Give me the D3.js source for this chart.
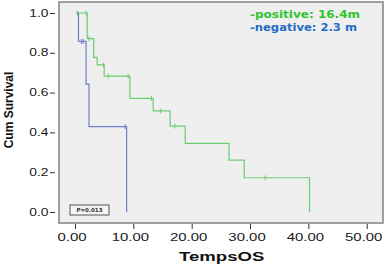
<!DOCTYPE html>
<html>
<head>
<meta charset="utf-8">
<script src="https://cdn.jsdelivr.net/npm/d3@7"></script>
<style>
  body { margin: 0; background: #fff; }
  svg { display: block; }
</style>
</head>
<body>
<svg id="chart" width="387" height="266"></svg>
<script>
// kaplan-meier curves, values
var x_ticks = [0, 10, 20, 30, 40, 50];
var y_ticks = [0, 0.2, 0.4, 0.6, 0.8, 1.0];

var pos_start = 0.3;
var pos_event_time = [2.1, 3.2, 3.8, 5.0, 9.4, 13.4, 16.3, 18.9, 26.4, 29.0, 40.2];
var pos_surv       = [0.871, 0.777, 0.739, 0.683, 0.571, 0.508, 0.432, 0.345, 0.261, 0.172, 0.0];
var pos_censor     = [0.4, 1.9, 2.4, 4.9, 5.7, 9.1, 13.1, 14.7, 17.1, 32.6];

var neg_start = 0.3;
var neg_event_time = [0.6, 1.9, 2.4, 8.85];
var neg_surv       = [0.857, 0.643, 0.429, 0.0];
var neg_censor     = [1.1, 1.4, 8.6];

var legend_lines = ["-positive: 16.4m", "-negative: 2.3 m"];
var p_label = "P=0.013";

var col_pos = "#6acd74";
var col_neg = "#6e80c6";

var svg = d3.select("#chart");

var x = d3.scaleLinear().domain([0, 50]).range([75, 366.7]);
var y = d3.scaleLinear().domain([0, 1]).range([212, 13]);

// frame
svg.append("rect")
    .attr("x", 59).attr("y", 2)
    .attr("width", 324).attr("height", 221)
    .attr("fill", "#efefef")
    .attr("stroke", "#8a8a8a")
    .attr("stroke-width", 1.6);

// axes (ticks detached from frame like spss)
var yAxis = d3.axisLeft(y).tickValues(y_ticks).tickSize(5).tickFormat("");
var gy = svg.append("g").attr("transform", "translate(55,0)").call(yAxis);
gy.select(".domain").remove();
gy.selectAll(".tick line").attr("stroke", "#333");

var xAxis = d3.axisBottom(x).tickValues(x_ticks).tickSize(5).tickFormat("");
var gx = svg.append("g").attr("transform", "translate(0,224)").call(xAxis);
gx.select(".domain").remove();
gx.selectAll(".tick line").attr("stroke", "#333");

// tick labels, stretched wide like the original export
svg.selectAll(".ylab")
    .data(y_ticks)
    .enter()
    .append("g")
    .attr("transform", d => "translate(48.5," + (y(d) + 3.6) + ") scale(1.38,1)")
    .append("text")
    .attr("text-anchor", "end")
    .style("font-family", "Liberation Sans, Arial, sans-serif")
    .style("font-size", "10px")
    .attr("fill", "#1a1a1a")
    .text(d => d3.format(".1f")(d));

svg.selectAll(".xlab")
    .data(x_ticks)
    .enter()
    .append("g")
    .attr("transform", d => "translate(" + (x(d) - 3) + ",240.5) scale(1.45,1)")
    .append("text")
    .attr("text-anchor", "middle")
    .style("font-family", "Liberation Sans, Arial, sans-serif")
    .style("font-size", "10.3px")
    .attr("fill", "#1a1a1a")
    .text(d => d3.format(".2f")(d));

svg.append("g")
    .attr("transform", "translate(221.7,261) scale(1.55,1)")
    .append("text")
    .attr("text-anchor", "middle")
    .style("font-family", "Liberation Sans, Arial, sans-serif")
    .style("font-size", "12px")
    .style("font-weight", "bold")
    .attr("fill", "#111")
    .text("TempsOS");

svg.append("g")
    .attr("transform", "translate(12.5,110) rotate(-90) scale(1,1.12)")
    .append("text")
    .attr("text-anchor", "middle")
    .style("font-family", "Liberation Sans, Arial, sans-serif")
    .style("font-size", "12px")
    .style("font-weight", "bold")
    .attr("fill", "#111")
    .text("Cum Survival");

// step curves
function km_points(start, times, surv){
    let pts = [[start, 1]];
    let s = 1;
    times.forEach((t, i) => {
        pts.push([t, s]);
        s = surv[i];
        pts.push([t, s]);
    });
    return pts;
}

function surv_at(t, times, surv){
    let s = 1;
    times.forEach((e, i) => { if (e <= t) s = surv[i]; });
    return s;
}

var line = d3.line().x(d => x(d[0])).y(d => y(d[1]));

function draw_curve(start, times, surv, censor, col){
    svg.append("path")
        .attr("d", line(km_points(start, times, surv)))
        .attr("fill", "none")
        .attr("stroke", col)
        .attr("stroke-width", 1.2);

    svg.selectAll(null)
        .data(censor)
        .enter()
        .append("line")
        .attr("x1", d => x(d)).attr("x2", d => x(d))
        .attr("y1", d => y(surv_at(d, times, surv)) - 2.5)
        .attr("y2", d => y(surv_at(d, times, surv)) + 2.5)
        .attr("stroke", col)
        .attr("stroke-width", 1);
}

draw_curve(pos_start, pos_event_time, pos_surv, pos_censor, col_pos);
draw_curve(neg_start, neg_event_time, neg_surv, neg_censor, col_neg);

// p value box
svg.append("rect")
    .attr("x", 70).attr("y", 205)
    .attr("width", 39).attr("height", 10)
    .attr("fill", "#f4f4f4")
    .attr("stroke", "#555")
    .attr("stroke-width", 1);

svg.append("text")
    .attr("x", 89.5).attr("y", 212.2)
    .attr("text-anchor", "middle")
    .style("font-family", "DejaVu Sans, sans-serif")
    .style("font-size", "5.5px")
    .style("font-weight", "bold")
    .attr("fill", "#333")
    .text(p_label);

// legend text
svg.selectAll(".leg")
    .data(legend_lines)
    .enter()
    .append("text")
    .attr("x", 250)
    .attr("y", (d, i) => 17.5 + i * 13.5)
    .attr("textLength", (d, i) => i == 0 ? 110 : 107)
    .attr("lengthAdjust", "spacingAndGlyphs")
    .style("font-family", "DejaVu Sans, sans-serif")
    .style("font-size", "10px")
    .style("font-weight", "bold")
    .attr("fill", (d, i) => i == 0 ? "#2ec52e" : "#1f6cc4")
    .text(d => d);
</script>
</body>
</html>
